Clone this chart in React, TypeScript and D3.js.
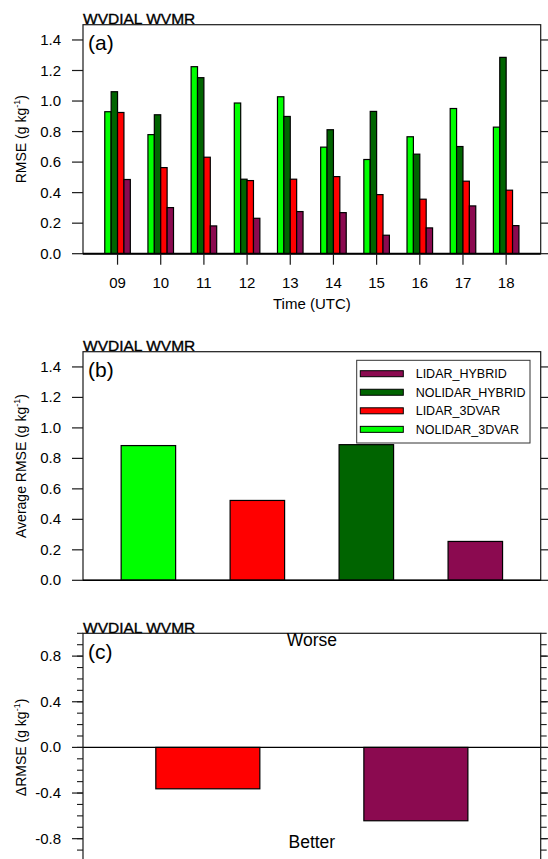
import * as d3 from "d3";
import React from "react";

// hourly RMSE (panel a)
const hours = ["09", "10", "11", "12", "13", "14", "15", "16", "17", "18"];
const nolidar3dvar = [0.93, 0.78, 1.225, 0.987, 1.028, 0.698, 0.617, 0.766, 0.951, 0.829];
const nolidarHybrid = [1.061, 0.91, 1.153, 0.488, 0.899, 0.812, 0.932, 0.652, 0.702, 1.286];
const lidar3dvar = [0.925, 0.564, 0.632, 0.479, 0.488, 0.505, 0.387, 0.357, 0.475, 0.416];
const lidarHybrid = [0.486, 0.302, 0.182, 0.232, 0.276, 0.269, 0.121, 0.169, 0.313, 0.184];

// averages (panel b)
const avgNames = ["NOLIDAR_3DVAR", "LIDAR_3DVAR", "NOLIDAR_HYBRID", "LIDAR_HYBRID"];
const avgValues = [0.884, 0.524, 0.89, 0.255];

// differences (panel c)
const diffNames = ["LIDAR_3DVAR", "LIDAR_HYBRID"];
const diffValues = [-0.363, -0.643];

const legendNames = ["LIDAR_HYBRID", "NOLIDAR_HYBRID", "LIDAR_3DVAR", "NOLIDAR_3DVAR"];

const colors: Record<string, string> = {
  NOLIDAR_3DVAR: "#00ff00",
  NOLIDAR_HYBRID: "#006400",
  LIDAR_3DVAR: "#ff0000",
  LIDAR_HYBRID: "#8b0a50",
};

const rmseTicks = [0, 0.2, 0.4, 0.6, 0.8, 1.0, 1.2, 1.4];
const diffMajor = [-0.8, -0.4, 0, 0.4, 0.8];
const diffMinor = d3.range(-10, 11).map((i) => i / 10);

const FONT = "'Liberation Sans', Arial, Helvetica, sans-serif";
const LEFT = 83;
const RIGHT = 540.7;
const TICK = 11;
const FRAME = "#1a1a1a";

type PanelProps = {
  top: number;
  bottom: number;
  yDomain: [number, number];
  label: string;
  yLabel: string;
  majors: number[];
  minors?: number[];
  fmt: (v: number) => string;
  children: (y: d3.ScaleLinear<number, number>) => React.ReactNode;
};

function YLabel({ x, y, main }: { x: number; y: number; main: string }) {
  return (
    <text
      transform={`translate(${x},${y}) rotate(-90)`}
      textAnchor="middle"
      fontSize={14}
      fontFamily={FONT}
    >
      {main} (g kg
      <tspan fontSize={9} dy={-6}>
        -1
      </tspan>
      <tspan dy={6}>)</tspan>
    </text>
  );
}

function Panel({ top, bottom, yDomain, label, yLabel, majors, minors, fmt, children }: PanelProps) {
  const y = d3.scaleLinear().domain(yDomain).range([bottom, top]);
  const clipId = `clip-${label}`;
  return (
    <g>
      <clipPath id={clipId}>
        <rect x={LEFT} y={top} width={RIGHT - LEFT} height={bottom - top} />
      </clipPath>
      <text x={LEFT} y={top - 0.8} fontSize={15.5} fontFamily={FONT} stroke="#000" strokeWidth={0.35}>
        WVDIAL WVMR
      </text>
      <g clipPath={`url(#${clipId})`}>{children(y)}</g>
      <rect x={LEFT} y={top} width={RIGHT - LEFT} height={bottom - top} fill="none" stroke={FRAME} strokeWidth={1.2} />
      {(minors || []).map((v) => (
        <g key={`mn${v}`} stroke={FRAME} strokeWidth={1.1}>
          <line x1={LEFT - 6} x2={LEFT} y1={y(v)} y2={y(v)} />
          <line x1={RIGHT} x2={RIGHT + 6} y1={y(v)} y2={y(v)} />
        </g>
      ))}
      {majors.map((v) => (
        <g key={`mj${v}`}>
          <line x1={LEFT - TICK} x2={LEFT} y1={y(v)} y2={y(v)} stroke={FRAME} strokeWidth={1.2} />
          <line x1={RIGHT} x2={RIGHT + TICK} y1={y(v)} y2={y(v)} stroke={FRAME} strokeWidth={1.2} />
          <text x={61} y={y(v) + 5} textAnchor="end" fontSize={15} fontFamily={FONT}>
            {fmt(v)}
          </text>
        </g>
      ))}
      <text x={88} y={top + 25.5} fontSize={21} fontFamily={FONT}>
        ({label})
      </text>
      <YLabel x={26} y={(top + bottom) / 2} main={yLabel} />
    </g>
  );
}

export default function App() {
  const xa = d3.scaleLinear().domain([-0.8, 9.8]).range([LEFT, RIGHT]);
  const xb = d3.scaleLinear().domain([-0.6, 3.6]).range([LEFT, RIGHT]);
  const xc = d3.scaleLinear().domain([-0.6, 1.6]).range([LEFT, RIGHT]);
  const bw = 0.148;
  const series = [
    { name: "NOLIDAR_3DVAR", values: nolidar3dvar },
    { name: "NOLIDAR_HYBRID", values: nolidarHybrid },
    { name: "LIDAR_3DVAR", values: lidar3dvar },
    { name: "LIDAR_HYBRID", values: lidarHybrid },
  ];
  const f1 = (v: number) => v.toFixed(1);

  return (
    <svg width={548} height={859} style={{ position: "absolute", left: 0, top: 0 }}>
      <rect width={548} height={859} fill="#fff" />

      {/* (a) hourly */}
      <Panel top={24.7} bottom={253.7} yDomain={[0, 1.5]} label="a" yLabel="RMSE" majors={rmseTicks} fmt={f1}>
        {(y) =>
          series.map((s, si) =>
            s.values.map((v, i) => (
              <rect
                key={`${s.name}${i}`}
                x={xa(i - 2 * bw + si * bw)}
                y={y(v)}
                width={xa(bw) - xa(0)}
                height={y(0) - y(v)}
                fill={colors[s.name]}
                stroke="#000"
                strokeWidth={1.2}
              />
            ))
          )
        }
      </Panel>
      <line x1={LEFT} x2={RIGHT} y1={253.7} y2={253.7} stroke="#000" strokeWidth={2} />
      {hours.map((h, i) => (
        <g key={h}>
          <line x1={xa(i)} x2={xa(i)} y1={253.7} y2={253.7 + TICK} stroke={FRAME} strokeWidth={1.2} />
          <text x={xa(i)} y={287.7} textAnchor="middle" fontSize={15} fontFamily={FONT}>
            {h}
          </text>
        </g>
      ))}
      <text x={(LEFT + RIGHT) / 2} y={309.3} textAnchor="middle" fontSize={15} fontFamily={FONT}>
        Time (UTC)
      </text>

      {/* (b) averages */}
      <Panel top={351.7} bottom={580.3} yDomain={[0, 1.5]} label="b" yLabel="Average RMSE" majors={rmseTicks} fmt={f1}>
        {(y) =>
          avgValues.map((v, i) => (
            <rect
              key={avgNames[i]}
              x={xb(i - 0.25)}
              y={y(v)}
              width={xb(0.5) - xb(0)}
              height={y(0) - y(v)}
              fill={colors[avgNames[i]]}
              stroke="#000"
              strokeWidth={1.2}
            />
          ))
        }
      </Panel>
      <line x1={LEFT} x2={RIGHT} y1={580.3} y2={580.3} stroke="#000" strokeWidth={1.6} />
      <g>
        <rect x={356.7} y={360.3} width={173.3} height={82.7} fill="#fff" stroke="#333" strokeWidth={1} />
        {legendNames.map((n, i) => {
          const cy = 373.7 + i * 18.55;
          return (
            <g key={n}>
              <rect x={360.3} y={cy - 3} width={43} height={6} fill={colors[n]} stroke="#000" strokeWidth={1} />
              <text x={415.7} y={cy + 4.5} fontSize={12.5} fontFamily={FONT}>
                {n}
              </text>
            </g>
          );
        })}
      </g>

      {/* (c) differences */}
      <Panel
        top={633.3}
        bottom={861.5}
        yDomain={[-1, 1]}
        label="c"
        yLabel={"\u0394RMSE"}
        majors={diffMajor}
        minors={diffMinor}
        fmt={f1}
      >
        {(y) => (
          <g>
            <line x1={LEFT} x2={RIGHT} y1={y(0)} y2={y(0)} stroke="#000" strokeWidth={1.1} />
            {diffValues.map((v, i) => (
              <rect
                key={diffNames[i]}
                x={xc(i - 0.25)}
                y={y(0)}
                width={xc(0.5) - xc(0)}
                height={y(v) - y(0)}
                fill={colors[diffNames[i]]}
                stroke="#000"
                strokeWidth={1.2}
              />
            ))}
          </g>
        )}
      </Panel>
      <text x={(LEFT + RIGHT) / 2} y={645.7} textAnchor="middle" fontSize={17.5} fontFamily={FONT}>
        Worse
      </text>
      <text x={(LEFT + RIGHT) / 2} y={848.3} textAnchor="middle" fontSize={17.5} fontFamily={FONT}>
        Better
      </text>
    </svg>
  );
}
